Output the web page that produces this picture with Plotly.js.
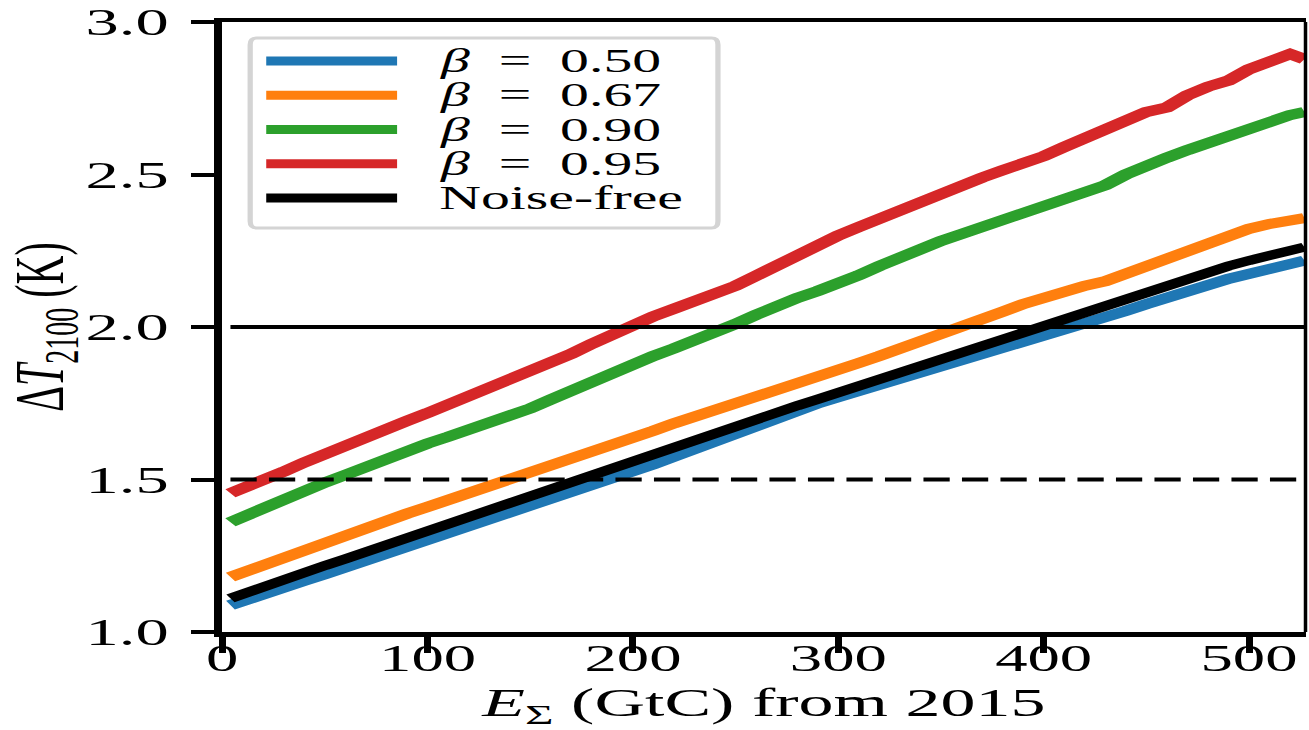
<!DOCTYPE html>
<html>
<head>
<meta charset="utf-8">
<script src="https://cdn.plot.ly/plotly-3.0.1.min.js"></script>
<style>
html,body{margin:0;padding:0;background:#fff;overflow:hidden;width:1309px;height:730px;}
#chart{width:748px;height:730px;transform:scaleX(1.75);transform-origin:0 0;}
</style>
</head>
<body>
<div id="chart"></div>
<script>
// cumulative emissions from 2015 (GtC)
const emissions = [4,10,20,30,40,50,60,70,80,90,100,110,120,130,140,150,160,170,180,190,200,210,220,230,240,250,260,270,280,290,300,310,320,330,340,350,360,370,380,390,400,410,420,430,440,450,460,470,480,490,500,510,520,527];

const beta050 = [1.088,1.100,1.122,1.145,1.168,1.190,1.212,1.235,1.258,1.280,1.302,1.325,1.348,1.372,1.395,1.418,1.440,1.460,1.482,1.503,1.525,1.550,1.575,1.600,1.627,1.655,1.682,1.706,1.728,1.750,1.770,1.790,1.808,1.828,1.847,1.866,1.885,1.905,1.925,1.945,1.965,1.985,2.008,2.030,2.053,2.075,2.098,2.118,2.138,2.158,2.174,2.190,2.205,2.218];

const beta067 = [1.180,1.195,1.220,1.245,1.268,1.292,1.315,1.340,1.365,1.388,1.410,1.432,1.455,1.478,1.500,1.522,1.545,1.568,1.592,1.615,1.638,1.660,1.684,1.705,1.728,1.750,1.775,1.798,1.818,1.840,1.860,1.882,1.905,1.928,1.950,1.975,2.000,2.025,2.050,2.075,2.098,2.118,2.135,2.150,2.175,2.203,2.225,2.250,2.276,2.298,2.322,2.338,2.347,2.357];

const beta090 = [1.360,1.378,1.405,1.432,1.462,1.490,1.515,1.542,1.568,1.596,1.618,1.640,1.662,1.685,1.710,1.733,1.762,1.792,1.820,1.848,1.878,1.905,1.930,1.955,1.980,2.010,2.040,2.070,2.095,2.118,2.142,2.170,2.200,2.230,2.258,2.282,2.305,2.328,2.350,2.372,2.398,2.425,2.445,2.465,2.500,2.532,2.555,2.580,2.604,2.625,2.652,2.678,2.695,2.705];

const beta095 = [1.455,1.470,1.498,1.526,1.556,1.585,1.612,1.640,1.666,1.692,1.718,1.745,1.770,1.797,1.823,1.850,1.880,1.912,1.945,1.978,2.008,2.035,2.060,2.085,2.108,2.135,2.168,2.202,2.238,2.270,2.300,2.328,2.356,2.386,2.414,2.440,2.466,2.490,2.514,2.536,2.560,2.590,2.620,2.648,2.672,2.705,2.720,2.760,2.788,2.808,2.845,2.870,2.895,2.878];

const noiseFree = [1.110,1.125,1.148,1.172,1.195,1.218,1.240,1.263,1.287,1.310,1.333,1.356,1.380,1.403,1.427,1.450,1.473,1.495,1.518,1.540,1.562,1.585,1.607,1.630,1.652,1.674,1.697,1.720,1.742,1.763,1.785,1.808,1.830,1.852,1.875,1.897,1.918,1.940,1.962,1.984,2.005,2.027,2.050,2.072,2.095,2.117,2.140,2.160,2.182,2.200,2.218,2.235,2.250,2.262];

const seriesNames = ['β = 0.50','β = 0.67','β = 0.90','β = 0.95','Noise-free'];
const legendLabels = ['<i>β</i>&nbsp;&nbsp;=&nbsp;&nbsp;0.50','<i>β</i>&nbsp;&nbsp;=&nbsp;&nbsp;0.67','<i>β</i>&nbsp;&nbsp;=&nbsp;&nbsp;0.90','<i>β</i>&nbsp;&nbsp;=&nbsp;&nbsp;0.95','Noise-free'];
const seriesColors = ['#1f77b4','#ff7f0e','#2ca02c','#d62728','#000000'];
const seriesValues = [beta050, beta067, beta090, beta095, noiseFree];

const xTickVals = [0,100,200,300,400,500];
const xTickText = ['0','100','200','300','400','500'];
const yTickVals = [1.0,1.5,2.0,2.5,3.0];
const yTickText = ['1.0','1.5','2.0','2.5','3.0'];
const thresholdSolid = 2.0;
const thresholdDashed = 1.5;
const xMax = 527.5;

const FONT = 'Liberation Serif, Times New Roman, serif';

const traces = seriesValues.map((vals, i) => ({
  type: 'scatter', mode: 'lines', name: seriesNames[i],
  x: emissions, y: vals,
  line: {color: seriesColors[i], width: i === 4 ? 9 : 10, shape: 'linear'},
  hoverinfo: 'skip'
}));

const shapes = [
  {type:'line', xref:'x', yref:'y', x0:emissions[0], x1:xMax, y0:thresholdSolid, y1:thresholdSolid,
   line:{color:'#000', width:4}},
  {type:'line', xref:'x', yref:'y', x0:emissions[0], x1:xMax, y0:thresholdDashed, y1:thresholdDashed,
   line:{color:'#000', width:4, dash:'15px,7px'}},
  {type:'line', xref:'paper', yref:'paper', x0:1, x1:1, y0:0, y1:1, line:{color:'#000', width:2}}
];

// legend frame
const lx0 = 0.0258, lx1 = 0.4576, ly0 = 0.6623, ly1 = 0.9738, rx = 0.006, ry = 0.011;
shapes.push({
  type:'path', xref:'paper', yref:'paper', layer:'above',
  path:`M ${lx0+rx},${ly0} L ${lx1-rx},${ly0} Q ${lx1},${ly0} ${lx1},${ly0+ry} L ${lx1},${ly1-ry} Q ${lx1},${ly1} ${lx1-rx},${ly1} L ${lx0+rx},${ly1} Q ${lx0},${ly1} ${lx0},${ly1-ry} L ${lx0},${ly0+ry} Q ${lx0},${ly0} ${lx0+rx},${ly0} Z`,
  fillcolor:'rgba(255,255,255,0.85)', line:{color:'#d4d4d4', width:3}
});

const annotations = [];
const rowTop = 0.9361, rowStep = 0.0562;
seriesNames.forEach((n, i) => {
  const yy = rowTop - i*rowStep;
  shapes.push({type:'line', xref:'paper', yref:'paper', x0:0.0406, x1:0.1614, y0:yy, y1:yy,
    line:{color:seriesColors[i], width:9}});
  annotations.push({xref:'paper', yref:'paper', x:0.1965, y:yy, xanchor:'left', yanchor:'middle',
    text:legendLabels[i], showarrow:false, font:{family:FONT, size:33, color:'#000'}});
});

const layout = {
  width:748, height:730,
  margin:{l:127, r:2, t:22, b:98},
  paper_bgcolor:'#ffffff', plot_bgcolor:'#ffffff',
  font:{family:FONT, color:'#000', size:37},
  showlegend:false,
  xaxis:{
    range:[0, xMax], tickvals:xTickVals, ticktext:xTickText,
    ticks:'outside', ticklen:16, tickwidth:4, tickcolor:'#000',
    showline:true, linewidth:4.5, linecolor:'#000', mirror:true,
    showgrid:false, zeroline:false,
    ticklabelstandoff:-26,
    tickfont:{family:FONT, size:37, color:'#000'},
    title:{text:'<i>E</i><sub>Σ</sub> (GtC) from 2015', font:{family:FONT, size:40, color:'#000'}, standoff:25}
  },
  yaxis:{
    range:[1, 3], tickvals:yTickVals, ticktext:yTickText,
    ticks:'outside', ticklen:13, tickwidth:4, tickcolor:'#000',
    showline:true, linewidth:5, linecolor:'#000', mirror:false,
    showgrid:false, zeroline:false,
    ticklabelstandoff:5,
    tickfont:{family:FONT, size:38, color:'#000'},
    title:{text:'Δ<i>T</i><sub>2100</sub> (K)', font:{family:FONT, size:40, color:'#000'}, standoff:12}
  },
  shapes: shapes,
  annotations: annotations
};

Plotly.newPlot('chart', traces, layout, {displayModeBar:false, staticPlot:true, responsive:false});
</script>
</body>
</html>
